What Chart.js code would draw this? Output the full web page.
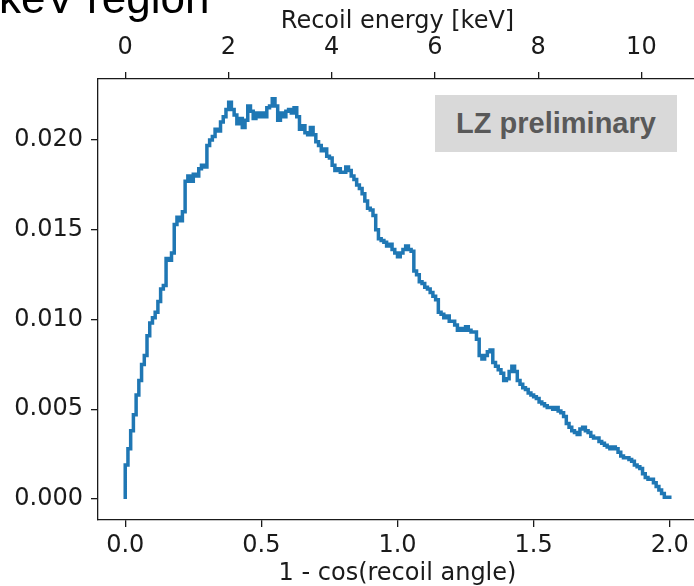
<!DOCTYPE html>
<html>
<head>
<meta charset="utf-8">
<script src="https://cdn.jsdelivr.net/npm/chart.js@4.4.0/dist/chart.umd.min.js"></script>
<style>
  body { margin: 0; background: #fff; overflow: hidden; width: 694px; height: 586px; position: relative; }
  #wrap { position: absolute; left: 0; top: 0; width: 700px; height: 586px; }
  #heading { position: absolute; left: -1px; top: -27px; line-height: 40px; font: 44px "Liberation Sans", Arial, sans-serif; color: #000; white-space: nowrap; }
  #stamp { position: absolute; left: 435px; top: 95px; width: 242px; height: 57px; background: #d9d9d9; color: #595959;
           font: bold 29px "Liberation Sans", Arial, sans-serif; display: flex; align-items: center; justify-content: center; }
</style>
</head>
<body>
<div id="wrap"><canvas id="recoilChart" width="700" height="586"></canvas></div>
<div id="heading">keV region</div>
<div id="stamp">LZ preliminary</div>
<script>
// histogram of 1 - cos(recoil angle), bins of 0.01 from 0 to 2
const binStart = 0;
const binWidth = 0.01;
const binValues = [
  0.0006, 0.0019, 0.0028, 0.0038, 0.0047, 0.0058, 0.0066, 0.0075, 0.0080, 0.0091,
  0.0098, 0.0101, 0.0104, 0.0110, 0.0117, 0.0119, 0.0134, 0.0133, 0.0137, 0.0153,
  0.0157, 0.0155, 0.0160, 0.0177, 0.0180, 0.0177, 0.0181, 0.0180, 0.0184, 0.0186,
  0.0185, 0.0197, 0.0200, 0.0202, 0.0206, 0.0205, 0.0210, 0.0213, 0.0217, 0.0221,
  0.0217, 0.0214, 0.0209, 0.0212, 0.0207, 0.0211, 0.0219, 0.0216, 0.0212, 0.0215,
  0.0213, 0.0215, 0.0213, 0.0218, 0.0219, 0.0223, 0.0219, 0.0211, 0.0215, 0.0213,
  0.0216, 0.0217, 0.0215, 0.0218, 0.0213, 0.0206, 0.0208, 0.0204, 0.0203, 0.0207,
  0.0203, 0.0199, 0.0197, 0.0194, 0.0195, 0.0191, 0.0190, 0.0186, 0.0183, 0.0184,
  0.0182, 0.0182, 0.0185, 0.0183, 0.0180, 0.0178, 0.0175, 0.0173, 0.0170, 0.0166,
  0.0162, 0.0161, 0.0158, 0.0150, 0.0145, 0.0144, 0.0143, 0.0141, 0.0142, 0.0139,
  0.0137, 0.0135, 0.0137, 0.0139, 0.0141, 0.0139, 0.0138, 0.0127, 0.0125, 0.0121,
  0.0120, 0.0118, 0.0117, 0.0115, 0.0113, 0.0111, 0.0104, 0.0103, 0.0101, 0.0102,
  0.0099, 0.0099, 0.0097, 0.0094, 0.0095, 0.0094, 0.0096, 0.0094, 0.0093, 0.0093,
  0.0089, 0.0080, 0.0078, 0.0080, 0.0082, 0.0083, 0.0076, 0.0074, 0.0072, 0.0070,
  0.0066, 0.0067, 0.0071, 0.0074, 0.0071, 0.0066, 0.0064, 0.0062, 0.0061, 0.0059,
  0.0058, 0.0057, 0.0056, 0.0054, 0.0053, 0.0052, 0.0051, 0.0051, 0.0050, 0.0051,
  0.0049, 0.0048, 0.0046, 0.0042, 0.0040, 0.0038, 0.0037, 0.0036, 0.0039, 0.0040,
  0.0038, 0.0037, 0.0035, 0.0034, 0.0034, 0.0032, 0.0031, 0.0030, 0.0029, 0.0028,
  0.0029, 0.0028, 0.0026, 0.0024, 0.0023, 0.0023, 0.0022, 0.0021, 0.0019, 0.0018,
  0.0017, 0.0014, 0.0012, 0.0011, 0.0011, 0.0009, 0.0007, 0.0005, 0.0003, 0.0001
];

const angleTicks = [0, 0.5, 1.0, 1.5, 2.0];
const energyTicks = [0, 2, 4, 6, 8, 10];
const countTicks = [0, 0.005, 0.010, 0.015, 0.020];

// recoil energy scale relative to the 1 - cos axis
const kevPerUnit = 5.275;

const xMin = -0.1, xMax = 2.1;
const yMin = -0.00117, yMax = 0.0234;

function buildSteps() {
    const pts = [{ x: binStart, y: 0 }];
    binValues.forEach((v, i) => pts.push({ x: binStart + i * binWidth, y: v }));
    const end = binStart + binValues.length * binWidth;
    pts.push({ x: end, y: binValues[binValues.length - 1] });
    pts.push({ x: end, y: 0 });
    return pts;
}

const tickFont = { family: 'DejaVu Sans', size: 24 };
const ink = '#1a1a1a';

const ctx = document.getElementById('recoilChart');
new Chart(ctx, {
    type: 'line',
    data: {
        datasets: [{
            data: buildSteps(),
            borderColor: '#1f77b4',
            borderWidth: 3.5,
            pointRadius: 0,
            stepped: 'after',
            fill: false
        }]
    },
    options: {
        responsive: false,
        animation: false,
        layout: { padding: { left: 0, right: 3, top: 0, bottom: 0 } },
        plugins: { legend: { display: false }, tooltip: { enabled: false } },
        scales: {
            x: {
                type: 'linear',
                position: 'bottom',
                min: xMin,
                max: xMax,
                afterBuildTicks: s => { s.ticks = angleTicks.map(v => ({ value: v })); },
                afterFit: s => { s.height = 66; },
                grid: { drawOnChartArea: false, drawTicks: true, tickLength: 7, color: ink, lineWidth: 1.3 },
                border: { display: true, color: ink, width: 1.3 },
                ticks: { color: ink, font: tickFont, padding: 4, maxRotation: 0, callback: v => v.toFixed(1) },
                title: { display: true, text: '1 - cos(recoil angle)', color: ink,
                         font: { family: 'DejaVu Sans', size: 24, lineHeight: 1.0 }, padding: { top: 0, bottom: 0 } }
            },
            xTop: {
                type: 'linear',
                position: 'top',
                min: xMin * kevPerUnit,
                max: xMax * kevPerUnit,
                afterBuildTicks: s => { s.ticks = energyTicks.map(v => ({ value: v })); },
                afterFit: s => { s.height = 79; },
                grid: { drawOnChartArea: false, drawTicks: true, tickLength: 7, color: ink, lineWidth: 1.3 },
                border: { display: true, color: ink, width: 1.3 },
                ticks: { color: ink, font: tickFont, padding: 10, maxRotation: 0, callback: v => String(v) },
                title: { display: true, text: 'Recoil energy [keV]', color: ink, font: tickFont, padding: { top: 7, bottom: 0 } }
            },
            y: {
                type: 'linear',
                position: 'left',
                min: yMin,
                max: yMax,
                afterBuildTicks: s => { s.ticks = countTicks.map(v => ({ value: v })); },
                afterFit: s => { s.width = 98; },
                grid: { drawOnChartArea: false, drawTicks: true, tickLength: 7, color: ink, lineWidth: 1.3 },
                border: { display: true, color: ink, width: 1.3 },
                ticks: { color: ink, font: tickFont, padding: 8, callback: v => v.toFixed(3) }
            }
        }
    }
});
</script>
</body>
</html>
